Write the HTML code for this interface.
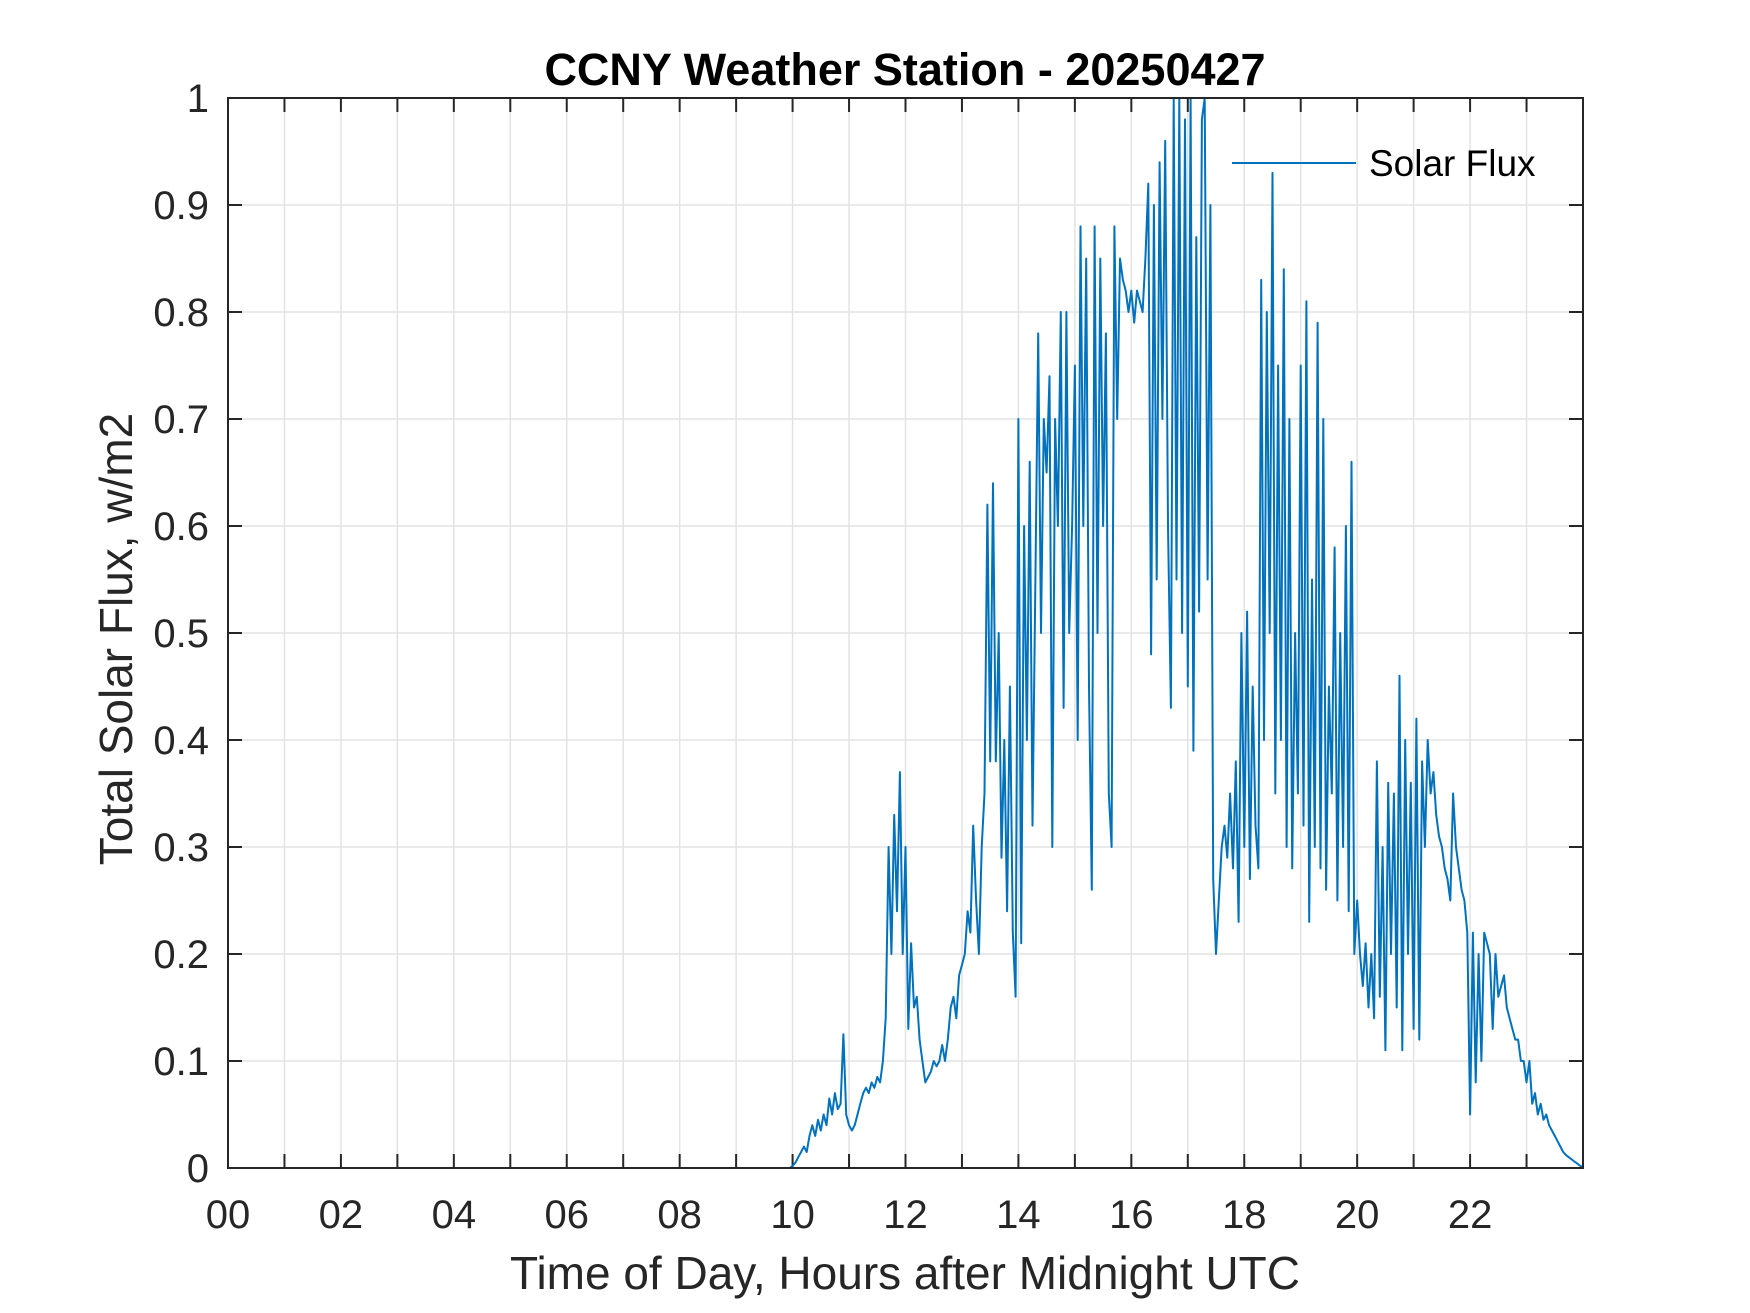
<!DOCTYPE html>
<html><head><meta charset="utf-8"><style>
html,body{margin:0;padding:0;background:#fff;}
svg{display:block;font-family:"Liberation Sans",Arial,sans-serif;}
</style></head><body>
<svg id="chart" width="1750" height="1313" viewBox="0 0 1750 1313" xmlns="http://www.w3.org/2000/svg">
<rect x="0" y="0" width="1750" height="1313" fill="#fff"/>
<g id="grid"></g>
<g id="ticks"></g>
<g id="series"></g>
<rect x="228" y="98" width="1355" height="1070" fill="none" stroke="#262626" stroke-width="2"/>
<text x="905" y="85" text-anchor="middle" font-size="45" font-weight="bold" fill="#000">CCNY Weather Station - 20250427</text>
<text x="905" y="1289" text-anchor="middle" font-size="46" fill="#262626">Time of Day, Hours after Midnight UTC</text>
<text transform="translate(132,639) rotate(-90)" text-anchor="middle" font-size="46" fill="#262626">Total Solar Flux, w/m2</text>
<g>
<line x1="1232" y1="163" x2="1356" y2="163" stroke="#0072BD" stroke-width="2"/>
<text x="1369" y="176" font-size="37" fill="#000">Solar Flux</text>
</g>
</svg>
<script>
const xTickHours = [0,1,2,3,4,5,6,7,8,9,10,11,12,13,14,15,16,17,18,19,20,21,22,23,24];
const xTickLabels = ["00","","02","","04","","06","","08","","10","","12","","14","","16","","18","","20","","22","",""];
const yTickValues = [0,0.1,0.2,0.3,0.4,0.5,0.6,0.7,0.8,0.9,1];
const yTickLabels = ["0","0.1","0.2","0.3","0.4","0.5","0.6","0.7","0.8","0.9","1"];
const nightHours = [0, 9.95];
const nightFlux = [0, 0];
const dayStartHour = 10;
const dayStepHours = 0.05;
const dayFlux = [
0.002,0.005,0.01,0.015,0.02,0.015,0.03,0.04,0.03,0.045,0.035,0.05,0.04,0.065,0.05,0.07,0.055,0.06,0.125,0.05,
0.04,0.035,0.04,0.05,0.06,0.07,0.075,0.07,0.08,0.075,0.085,0.08,0.1,0.14,0.3,0.2,0.33,0.24,0.37,0.2,
0.3,0.13,0.21,0.15,0.16,0.12,0.1,0.08,0.085,0.09,0.1,0.095,0.1,0.115,0.1,0.12,0.15,0.16,0.14,0.18,
0.19,0.2,0.24,0.22,0.32,0.25,0.2,0.3,0.35,0.62,0.38,0.64,0.38,0.5,0.29,0.4,0.24,0.45,0.22,0.16,
0.7,0.21,0.6,0.4,0.66,0.32,0.55,0.78,0.5,0.7,0.65,0.74,0.3,0.7,0.6,0.8,0.43,0.8,0.5,0.6,
0.75,0.4,0.88,0.6,0.85,0.45,0.26,0.88,0.5,0.85,0.6,0.78,0.35,0.3,0.88,0.7,0.85,0.83,0.82,0.8,
0.82,0.79,0.82,0.81,0.8,0.85,0.92,0.48,0.9,0.55,0.94,0.7,0.96,0.6,0.43,1.0,0.55,1.0,0.5,0.98,
0.45,1.0,0.39,0.87,0.52,0.98,1.0,0.55,0.9,0.27,0.2,0.25,0.3,0.32,0.29,0.35,0.28,0.38,0.23,0.5,
0.3,0.52,0.27,0.45,0.32,0.28,0.83,0.4,0.8,0.5,0.93,0.35,0.75,0.4,0.84,0.3,0.7,0.28,0.5,0.35,
0.75,0.32,0.81,0.23,0.55,0.3,0.79,0.28,0.7,0.26,0.45,0.35,0.58,0.25,0.5,0.3,0.6,0.24,0.66,0.2,
0.25,0.2,0.17,0.21,0.15,0.2,0.14,0.38,0.16,0.3,0.11,0.36,0.2,0.35,0.15,0.46,0.11,0.4,0.2,0.36,
0.13,0.42,0.12,0.38,0.3,0.4,0.35,0.37,0.33,0.31,0.3,0.28,0.27,0.25,0.35,0.3,0.28,0.26,0.25,0.22,
0.05,0.22,0.08,0.2,0.1,0.22,0.21,0.2,0.13,0.2,0.16,0.17,0.18,0.15,0.14,0.13,0.12,0.12,0.1,0.1,
0.08,0.1,0.06,0.07,0.05,0.06,0.045,0.05,0.04,0.035,0.03,0.025,0.02,0.015,0.012,0.01,0.008,0.006,0.004,0.002,
0.001
];

const NS = "http://www.w3.org/2000/svg";
const L = 228, R = 1583, T = 98, B = 1168;
function xScale(h){ return L + (h/24)*(R-L); }
function yScale(v){ return B - v*(B-T); }
function mk(tag, attrs, parent){
  const e = document.createElementNS(NS, tag);
  for (const k in attrs) e.setAttribute(k, attrs[k]);
  parent.appendChild(e);
  return e;
}
const grid = document.getElementById('grid');
const ticks = document.getElementById('ticks');
const series = document.getElementById('series');

xTickHours.forEach((h, i) => {
  const x = xScale(h);
  if (h > 0 && h < 24) {
    const g = mk('line', {x1:x, y1:T, x2:x, y2:B, stroke:'#e3e3e3', 'stroke-width':1.5}, grid);
    
    
  }
  const t1 = mk('line', {x1:x, y1:B, x2:x, y2:B-14, stroke:'#262626', 'stroke-width':2}, ticks);
  
  
  const t2 = mk('line', {x1:x, y1:T, x2:x, y2:T+14, stroke:'#262626', 'stroke-width':2}, ticks);
  
  
  if (xTickLabels[i]) {
    const tx = mk('text', {x:x, y:1228, 'text-anchor':'middle', 'font-size':40, fill:'#262626'}, ticks);
    tx.textContent = xTickLabels[i];
    
    
  }
});
yTickValues.forEach((v, i) => {
  const y = yScale(v);
  if (v > 0 && v < 1) {
    const g = mk('line', {x1:L, y1:y, x2:R, y2:y, stroke:'#e3e3e3', 'stroke-width':1.5}, grid);
    
    
  }
  const t1 = mk('line', {x1:L, y1:y, x2:L+14, y2:y, stroke:'#262626', 'stroke-width':2}, ticks);
  
  
  const t2 = mk('line', {x1:R, y1:y, x2:R-14, y2:y, stroke:'#262626', 'stroke-width':2}, ticks);
  
  
  const tx = mk('text', {x:209, y:y+14, 'text-anchor':'end', 'font-size':40, fill:'#262626'}, ticks);
  tx.textContent = yTickLabels[i];
  
  
});

const pts = [];
nightHours.forEach((h, i) => pts.push([h, nightFlux[i]]));
dayFlux.forEach((v, i) => pts.push([dayStartHour + i*dayStepHours, v]));
const d = pts.map((p, i) => (i ? 'L' : 'M') + xScale(p[0]).toFixed(1) + ' ' + yScale(p[1]).toFixed(1)).join(' ');
const path = mk('path', {d:d, fill:'none', stroke:'#0072BD', 'stroke-width':2, 'stroke-linejoin':'round'}, series);


</script>
</body></html>
